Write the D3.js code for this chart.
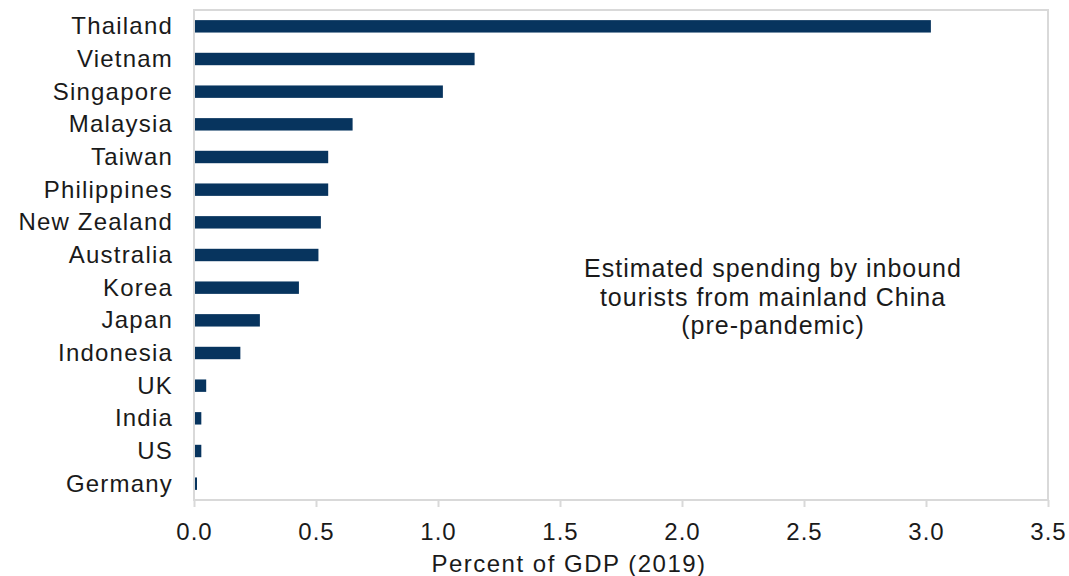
<!DOCTYPE html>
<html>
<head>
<meta charset="utf-8">
<script src="https://cdn.jsdelivr.net/npm/d3@7"></script>
<style>
  body { margin: 0; background: #fff; }
  text { font-family: "Liberation Sans", Arial, sans-serif; fill: #1a1a1a; }
</style>
</head>
<body>
<div id="main"></div>
<script>
const countries = ['Thailand', 'Vietnam', 'Singapore', 'Malaysia', 'Taiwan', 'Philippines',
  'New Zealand', 'Australia', 'Korea', 'Japan', 'Indonesia', 'UK', 'India', 'US', 'Germany'];
const values = [3.02, 1.15, 1.02, 0.65, 0.55, 0.55, 0.52, 0.51, 0.43, 0.27, 0.19, 0.05, 0.03, 0.03, 0.01];
const xTicks = [0, 0.5, 1, 1.5, 2, 2.5, 3, 3.5];
const noteLines = ['Estimated spending by inbound', 'tourists from mainland China', '(pre-pandemic)'];
const xTitle = 'Percent of GDP (2019)';

const width = 1069;
const height = 576;
const margin = { top: 10, right: 21, bottom: 76, left: 194 };

const svg = d3.select('#main')
  .append('svg')
  .attr('width', width)
  .attr('height', height);

const x = d3.scaleLinear()
  .domain([0, 3.5])
  .range([margin.left, width - margin.right]);

const y = d3.scaleBand()
  .domain(countries)
  .range([margin.top, height - margin.bottom])
  .paddingInner(0.62)
  .paddingOuter(0.31);

// plot frame
svg.append('rect')
  .attr('x', margin.left)
  .attr('y', margin.top)
  .attr('width', x(3.5) - margin.left)
  .attr('height', height - margin.bottom - margin.top)
  .style('fill', 'none')
  .style('stroke', '#d9d9d9')
  .style('stroke-width', 2);

// bars
svg.selectAll('.bar')
  .data(countries)
  .enter()
  .append('rect')
  .classed('bar', true)
  .attr('x', x(0) + 1)
  .attr('y', (d) => y(d))
  .attr('width', (d, i) => Math.max(2, x(values[i]) - x(0) - 1))
  .attr('height', y.bandwidth())
  .style('fill', '#07345e');

// category labels
svg.selectAll('.cat')
  .data(countries)
  .enter()
  .append('text')
  .classed('cat', true)
  .attr('x', margin.left - 21)
  .attr('y', (d) => y(d) + y.bandwidth() / 2)
  .attr('dy', '0.33em')
  .attr('text-anchor', 'end')
  .style('font-size', '24px')
  .style('letter-spacing', '1.2px')
  .text((d) => d);

// x axis
const xAxis = d3.axisBottom(x)
  .tickValues(xTicks)
  .tickFormat(d3.format('.1f'))
  .tickSize(7)
  .tickPadding(16);

const gx = svg.append('g')
  .attr('transform', `translate(0,${height - margin.bottom})`)
  .call(xAxis);
gx.select('.domain').remove();
gx.selectAll('.tick line').style('stroke', '#d9d9d9').style('stroke-width', 2);
gx.selectAll('.tick text')
  .style('font-size', '24px')
  .style('letter-spacing', '1px')
  .style('font-family', '"Liberation Sans", Arial, sans-serif')
  .style('fill', '#1a1a1a');

svg.append('text')
  .attr('x', 569)
  .attr('y', 572)
  .attr('text-anchor', 'middle')
  .style('font-size', '24px')
  .style('letter-spacing', '1.5px')
  .text(xTitle);

// annotation
svg.selectAll('.note')
  .data(noteLines)
  .enter()
  .append('text')
  .classed('note', true)
  .attr('x', 773)
  .attr('y', (d, i) => 277 + i * 28.5)
  .attr('text-anchor', 'middle')
  .style('font-size', '25px')
  .style('letter-spacing', '1px')
  .text((d) => d);
</script>
</body>
</html>
